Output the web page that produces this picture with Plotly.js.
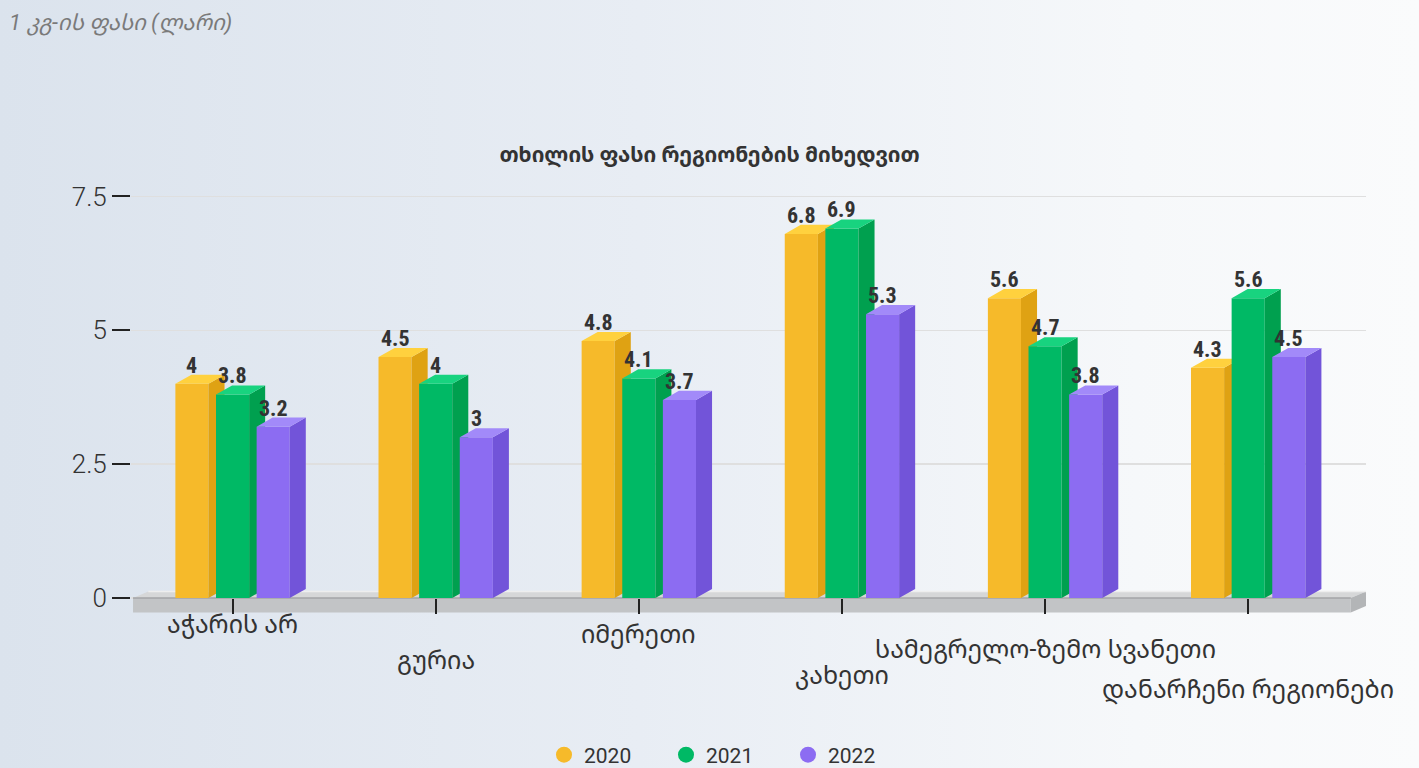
<!DOCTYPE html>
<html>
<head>
<meta charset="utf-8">
<script src="https://cdn.plot.ly/plotly-3.0.1.min.js"></script>
<style>
  html, body { margin: 0; padding: 0; width: 1419px; height: 768px; overflow: hidden;
    background: linear-gradient(90deg, #dbe3ed 0%, #e8edf4 45%, #f6f8fa 80%, #fafbfc 100%); }
  #chart { width: 1419px; height: 768px; }
</style>
</head>
<body>
<div id="chart"></div>
<script>
// ---------------- data ----------------
const categories = ['აჭარის არ', 'გურია', 'იმერეთი', 'კახეთი', 'სამეგრელო-ზემო სვანეთი', 'დანარჩენი რეგიონები'];
const years = ['2020', '2021', '2022'];
const values2020 = [4, 4.5, 4.8, 6.8, 5.6, 4.3];
const values2021 = [3.8, 4, 4.1, 6.9, 4.7, 5.6];
const values2022 = [3.2, 3, 3.7, 5.3, 3.8, 4.5];
const yTickVals = [0, 2.5, 5, 7.5];
const yTickText = ['0', '2.5', '5', '7.5'];
const chartTitle = 'თხილის ფასი რეგიონების მიხედვით';
const unitLabel = '1 კგ-ის ფასი (ლარი)';

// ---------------- style ----------------
const seriesValues = [values2020, values2021, values2022];
const frontColors = ['#F6BA2A', '#00B965', '#8C6CF2'];
const sideColors  = ['#DFA213', '#00A04F', '#7254D9'];
const topColors   = ['#FFD13E', '#18D37F', '#A28AF9'];
const offsets = [-0.2, 0, 0.2];
const barW = 0.163;
const dx = 0.079, dy = 0.17;          // pseudo-3D depth (axis units)
const xRange = [-0.5, 5.58];
const yRange = [-0.28, 7.9];
const W = 1419, H = 768;
const M = {l: 131, r: 53, t: 175, b: 155};
const plotH = H - M.t - M.b;
const pyToPaper = py => (H - M.b - py) / plotH;
const pxToPaper = px => (px - M.l) / (W - M.l - M.r);

const axisFont = 'Roboto, "Noto Sans Georgian", "DejaVu Sans", sans-serif';
const labelFont = '"Roboto Condensed", "Liberation Sans Narrow", "DejaVu Sans Condensed", Roboto, sans-serif';

const traces = [];

// floor slab (base subplot, below every bar)
const fx0 = -0.49, fx1 = 5.505, fDepth = -0.27, fdx = 0.075, fdy = 0.12;
traces.push({type: 'scatter', mode: 'lines', xaxis: 'x', yaxis: 'y', hoverinfo: 'skip', showlegend: false,
  x: [fx0, fx1, fx1, fx0, fx0], y: [0, 0, fDepth, fDepth, 0],
  fill: 'toself', fillcolor: '#c2c4c6', line: {width: 0}});
traces.push({type: 'scatter', mode: 'lines', xaxis: 'x', yaxis: 'y', hoverinfo: 'skip', showlegend: false,
  x: [fx0, fx1, fx1 + fdx, fx0 + fdx, fx0], y: [0, 0, fdy, fdy, 0],
  fill: 'toself', fillcolor: '#d6d7d8', line: {width: 0}});
traces.push({type: 'scatter', mode: 'lines', xaxis: 'x', yaxis: 'y', hoverinfo: 'skip', showlegend: false,
  x: [fx1, fx1 + fdx, fx1 + fdx, fx1, fx1], y: [0, fdy, fdy + fDepth, fDepth, 0],
  fill: 'toself', fillcolor: '#b3b5b7', line: {width: 0}});
traces.push({type: 'scatter', mode: 'lines', xaxis: 'x', yaxis: 'y', hoverinfo: 'skip', showlegend: false,
  x: [fx0, fx1], y: [0, 0], line: {width: 1.5, color: '#a3a5a7'}});
traces.push({type: 'scatter', mode: 'lines', xaxis: 'x', yaxis: 'y', hoverinfo: 'skip', showlegend: false,
  x: [fx0 + fdx, fx1 + fdx], y: [fdy, fdy], line: {width: 1.5, color: '#eeeeee'}});

const annotations = [];

seriesValues.forEach((vals, s) => {
  const xa = 'x' + (s + 2);
  const ya = 'y' + (s + 2);
  const xs = categories.map((c, i) => i + offsets[s]);
  // front faces
  traces.push({type: 'bar', x: xs, y: vals, width: barW, xaxis: xa, yaxis: ya, name: years[s],
    marker: {color: frontColors[s], line: {width: 0}}, showlegend: false, hoverinfo: 'skip'});
  // side + top faces
  const sx = [], sy = [], tx = [], ty = [];
  vals.forEach((v, i) => {
    const xl = xs[i] - barW / 2, xr = xs[i] + barW / 2;
    sx.push(xr, xr + dx, xr + dx, xr, xr, null);
    sy.push(0, dy, v + dy, v, 0, null);
    tx.push(xl, xr, xr + dx, xl + dx, xl, null);
    ty.push(v, v, v + dy, v + dy, v, null);
    annotations.push({xref: 'x', yref: 'y', x: xs[i], y: v + dy, text: String(v),
      showarrow: false, yanchor: 'bottom', yshift: -4, borderpad: 0,
      font: {family: labelFont, size: 22, weight: 'bold', color: '#333333'}});
  });
  traces.push({type: 'scatter', mode: 'lines', x: sx, y: sy, xaxis: xa, yaxis: ya, fill: 'toself',
    fillcolor: sideColors[s], line: {width: 0}, showlegend: false, hoverinfo: 'skip'});
  traces.push({type: 'scatter', mode: 'lines', x: tx, y: ty, xaxis: xa, yaxis: ya, fill: 'toself',
    fillcolor: topColors[s], line: {width: 0}, showlegend: false, hoverinfo: 'skip'});
});

// legend entries (circle markers)
years.forEach((yr, s) => {
  traces.push({type: 'scatter', mode: 'markers', x: [null], y: [null], name: yr, xaxis: 'x', yaxis: 'y',
    marker: {symbol: 'circle', size: 16, color: frontColors[s]}, hoverinfo: 'skip'});
});

// staggered category labels
const labelPy = [624, 660, 634, 675, 650, 690];
categories.forEach((c, i) => {
  annotations.push({xref: 'x', yref: 'paper', x: i, y: pyToPaper(labelPy[i]), text: c, showarrow: false,
    xanchor: 'center', yanchor: 'middle', font: {family: axisFont, size: 25, color: '#333333'}});
});

// unit label top-left
annotations.push({xref: 'paper', yref: 'paper', x: pxToPaper(7), y: pyToPaper(23), text: unitLabel,
  showarrow: false, xanchor: 'left', yanchor: 'middle',
  font: {family: axisFont, size: 22, style: 'italic', color: '#7a7a7a'}});

const hiddenX = {overlaying: 'x', range: xRange, visible: false, fixedrange: true};
const hiddenY = {overlaying: 'y', range: yRange, visible: false, fixedrange: true};

const layout = {
  width: W, height: H, autosize: false,
  margin: M,
  paper_bgcolor: 'rgba(0,0,0,0)', plot_bgcolor: 'rgba(0,0,0,0)',
  title: {text: chartTitle, x: 0.5, xref: 'container', xanchor: 'center', y: 1 - 155 / H, yref: 'container', yanchor: 'middle',
    font: {family: axisFont, size: 21, weight: 'bold', color: '#333333'}},
  barmode: 'overlay',
  showlegend: true,
  legend: {orientation: 'h', xref: 'container', yref: 'container', x: 727 / W, xanchor: 'center', y: 1 - 755 / H, yanchor: 'middle',
    entrywidth: 77, entrywidthmode: 'pixels', itemsizing: 'trace', traceorder: 'normal',
    font: {family: axisFont, size: 21, color: '#333333'}, bgcolor: 'rgba(0,0,0,0)'},
  xaxis: {range: xRange, fixedrange: true, showgrid: false, zeroline: false, showline: false,
    tickvals: categories.map((c, i) => i), showticklabels: false,
    ticks: 'outside', ticklen: 15, tickwidth: 2, tickcolor: '#222222',
    anchor: 'free', position: pyToPaper(598)},
  yaxis: {range: yRange, fixedrange: true, tickvals: yTickVals, ticktext: yTickText,
    ticks: 'outside', ticklen: 18, tickwidth: 2, tickcolor: '#222222',
    showgrid: true, gridcolor: '#dfdfdf', gridwidth: 1.5, zeroline: false, showline: false,
    tickfont: {family: axisFont, size: 26, weight: 300, color: '#333333'}},
  xaxis2: hiddenX, yaxis2: hiddenY,
  xaxis3: hiddenX, yaxis3: hiddenY,
  xaxis4: hiddenX, yaxis4: hiddenY,
  annotations: annotations
};

Plotly.newPlot('chart', traces, layout, {displayModeBar: false, staticPlot: true});
</script>
</body>
</html>
